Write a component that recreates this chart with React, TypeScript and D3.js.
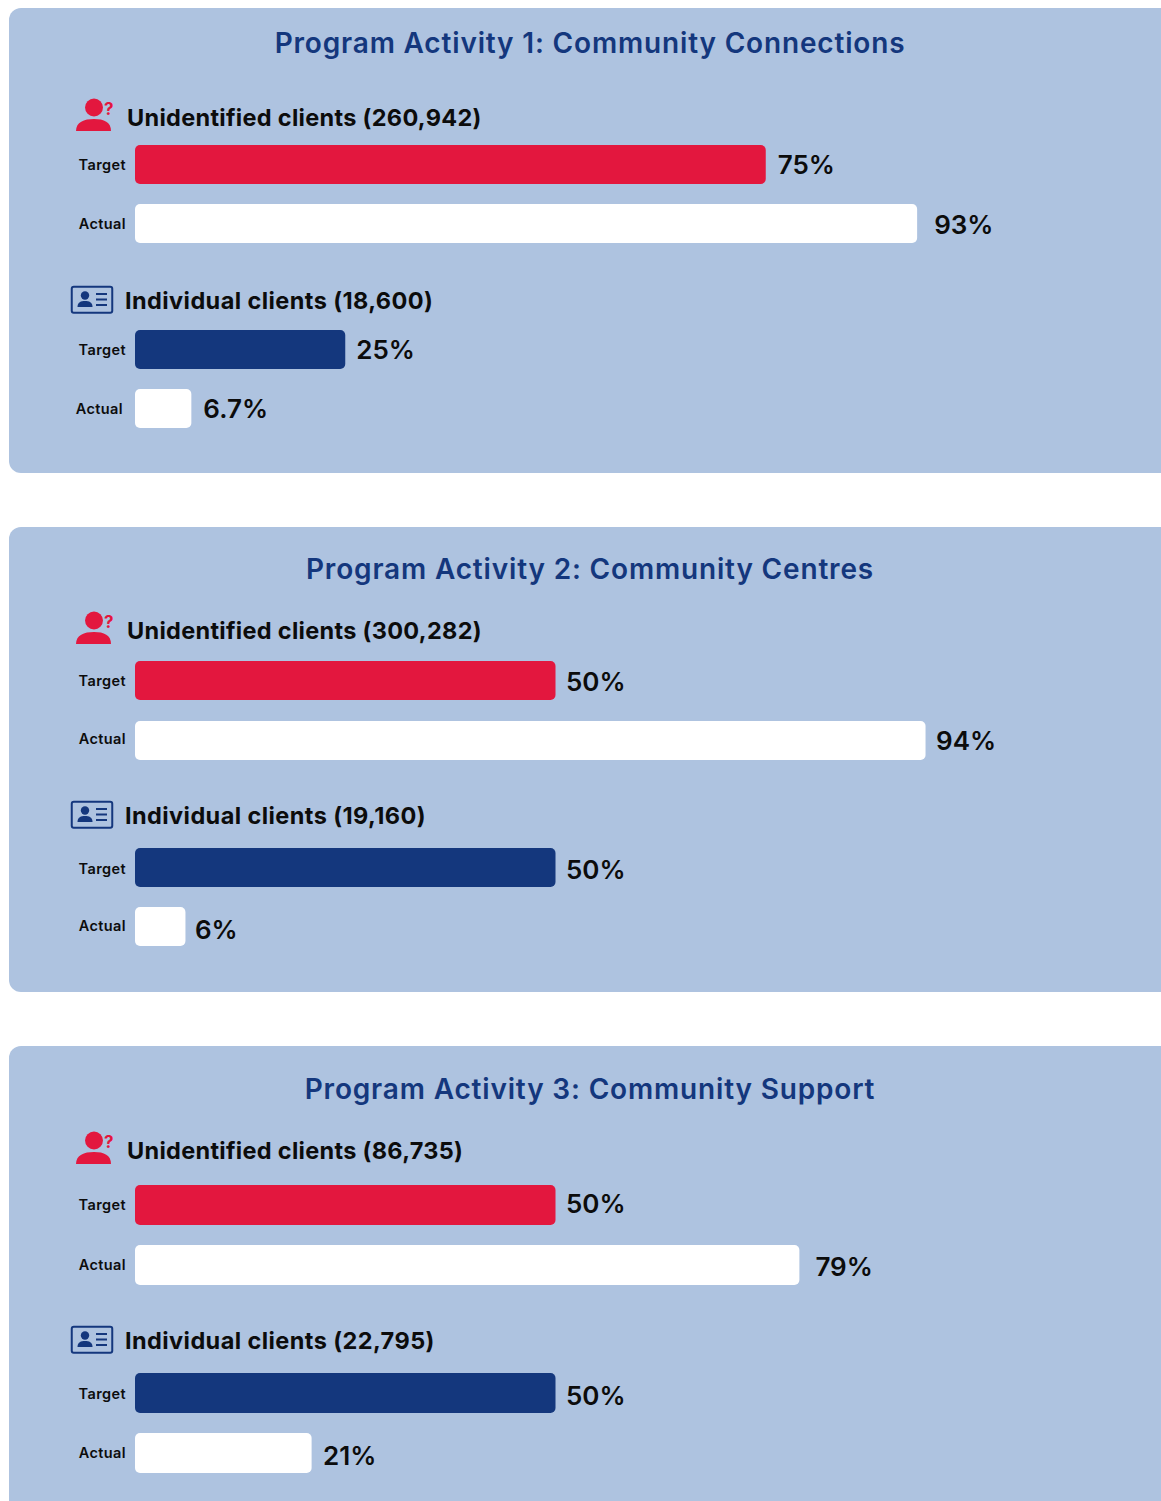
import React from "react";
import * as d3 from "d3";

const panelTitles = [
  "Program Activity 1: Community Connections",
  "Program Activity 2: Community Centres",
  "Program Activity 3: Community Support",
];
const unidentifiedCounts = ["260,942", "300,282", "86,735"];
const individualCounts = ["18,600", "19,160", "22,795"];
const unidentifiedTarget = [75, 50, 50];
const unidentifiedActual = [93, 94, 79];
const individualTarget = [25, 50, 50];
const individualActual = [6.7, 6, 21];

// layout only
const panelTop = [8, 527, 1046];
const panelBottom = [473, 992, 1530];
const titleCy = [43, 569, 1089];
const headCy = [[118, 301], [631, 816], [1151, 1341]];
const rowTops = [[[145, 204], [330, 389]], [[661, 721], [848, 907]], [[1185, 1245], [1373, 1433]]];
const rowH = [[39, 39], [39, 39], [40, 40]];
const valueCy = [[165, 225, 350, 409], [682, 741, 870, 930], [1204, 1267, 1396, 1456]];
const labelCy = [[165, 224, 350, 409], [681, 739, 869, 926], [1205, 1265, 1394, 1453]];
const valueGap = [[12, 17, 11, 12], [10.5, 10.5, 10.5, 9.5], [10.5, 16, 10.5, 11.5]];
const RED = "#e3173e";
const NAVY = "#14377d";
const PANEL = "#aec3e0";
const INK = "#0c0c0c";
const FONT = "Inter, 'Noto Sans', sans-serif";

const x = d3.scaleLinear().domain([0, 100]).range([135, 976]);

const PersonIcon = ({ cy }: { cy: number }) => (
  <g transform={`translate(76,${cy - 21})`} fill={RED}>
    <circle cx={18} cy={10.5} r={9} />
    <path d="M0 34 C0 25 8 22 18 22 C28 22 35 25 35 34 L0 34 Z" />
    <text x={28} y={18} fontSize={17} fontWeight={700} fontFamily={FONT}>?</text>
  </g>
);

const CardIcon = ({ cy }: { cy: number }) => (
  <g transform={`translate(71,${cy - 15})`}>
    <rect x={0.75} y={0.75} width={40.5} height={26} rx={2} fill="none" stroke={NAVY} strokeWidth={2} />
    <circle cx={14} cy={9.5} r={4.2} fill={NAVY} />
    <path d="M6.5 21 C6.5 16 10 15 14 15 C18 15 21.5 16 21.5 21 Z" fill={NAVY} />
    <path d="M25 8H36M25 13.5H36M25 19H36" stroke={NAVY} strokeWidth={2} />
  </g>
);

const Row = ({ label, value, color, y, h, labelX, lCy, vCy, gap }: { label: string; value: number; color: string; y: number; h: number; labelX: number; lCy: number; vCy: number; gap: number }) => (
  <g>
    <text x={labelX} y={lCy} dy="0.35em" textAnchor="end" fontSize={14.5} fontWeight={600} letterSpacing={0.4} fill={INK} fontFamily={FONT}>{label}</text>
    <rect x={x(0)} y={y} width={x(value) - x(0)} height={h} rx={5} fill={color} />
    <text x={x(value) + gap} y={vCy} dy="0.36em" fontSize={26} fontWeight={600} fill={INK} fontFamily={FONT}>{value}%</text>
  </g>
);

export default function App() {
  return (
    <>
      <style>{"body{margin:0;background:#fff}"}</style>
      <svg width={1161} height={1501} style={{ position: "absolute", left: 0, top: 0 }}>
        {panelTitles.map((title, i) => (
          <g key={title}>
            <rect x={9} y={panelTop[i]} width={1200} height={panelBottom[i] - panelTop[i]} rx={12} fill={PANEL} />
            <text x={590} y={titleCy[i]} dy="0.35em" textAnchor="middle" fontSize={28} fontWeight={600} letterSpacing={0.83} fill={NAVY} fontFamily={FONT}>{title}</text>
            <PersonIcon cy={headCy[i][0]} />
            <text x={127} y={headCy[i][0]} dy="0.36em" fontSize={23.5} fontWeight={700} letterSpacing={0.3} fill={INK} fontFamily={FONT}>{`Unidentified clients (${unidentifiedCounts[i]})`}</text>
            <Row label="Target" value={unidentifiedTarget[i]} color={RED} y={rowTops[i][0][0]} h={rowH[i][0]} labelX={126} lCy={labelCy[i][0]} vCy={valueCy[i][0]} gap={valueGap[i][0]} />
            <Row label="Actual" value={unidentifiedActual[i]} color="#fff" y={rowTops[i][0][1]} h={rowH[i][0]} labelX={126} lCy={labelCy[i][1]} vCy={valueCy[i][1]} gap={valueGap[i][1]} />
            <CardIcon cy={headCy[i][1]} />
            <text x={125} y={headCy[i][1]} dy="0.36em" fontSize={23.5} fontWeight={700} letterSpacing={0.42} fill={INK} fontFamily={FONT}>{`Individual clients (${individualCounts[i]})`}</text>
            <Row label="Target" value={individualTarget[i]} color={NAVY} y={rowTops[i][1][0]} h={rowH[i][1]} labelX={126} lCy={labelCy[i][2]} vCy={valueCy[i][2]} gap={valueGap[i][2]} />
            <Row label="Actual" value={individualActual[i]} color="#fff" y={rowTops[i][1][1]} h={rowH[i][1]} labelX={i === 0 ? 123 : 126} lCy={labelCy[i][3]} vCy={valueCy[i][3]} gap={valueGap[i][3]} />
          </g>
        ))}
      </svg>
    </>
  );
}
